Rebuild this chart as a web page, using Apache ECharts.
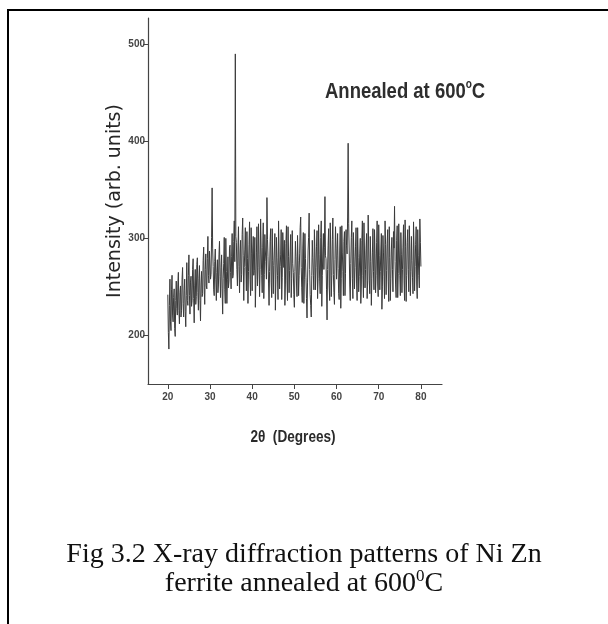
<!DOCTYPE html>
<html><head><meta charset="utf-8">
<script src="https://cdn.jsdelivr.net/npm/echarts@6/dist/echarts.min.js"></script>
<style>html,body{margin:0;padding:0;background:#fff}#c{width:608px;height:624px}</style>
</head><body><div id="c"></div>
<script>
// 2θ scan: start and step (degrees)
const scanStart = 20;
const scanStep = 0.125;
// Intensity (arb. units), one value per step (20° .. 80°)
const intensity = [
  242,203,186,231,258,214,205,247,262,221,214,239,248,207,199,236,256,228,221,252,
  265,226,212,244,251,219,226,258,270,233,219,246,258,225,209,241,275,236,231,262,
  283,241,222,255,261,230,236,268,279,238,213,251,268,232,240,273,280,244,226,259,
  272,236,215,253,266,240,243,277,291,249,232,268,284,251,248,279,302,262,254,287,
  286,258,263,301,352,290,271,247,241,276,289,258,236,265,278,244,252,283,297,261,
  239,270,283,248,222,259,274,301,247,233,300,266,233,258,281,249,256,290,293,265,
  248,281,305,259,262,297,318,276,490,302,296,268,251,289,312,271,244,285,298,255,
  263,304,321,282,236,270,289,311,271,246,307,279,233,266,294,317,258,241,311,284,
  246,288,302,262,267,301,229,258,285,312,251,270,315,283,240,268,320,291,262,244,
  291,316,238,263,304,287,276,258,342,299,281,254,231,266,297,310,255,239,310,277,
  243,272,289,305,226,258,301,280,262,237,318,286,248,271,283,309,237,260,306,289,
  270,298,231,252,295,313,257,236,312,281,244,267,286,304,239,259,308,274,265,242,
  229,266,297,281,254,240,303,277,241,262,284,311,322,270,249,234,290,306,233,258,
  305,279,260,238,218,255,287,301,326,268,242,231,219,262,298,280,262,247,309,286,
  247,270,292,308,238,259,314,283,256,243,301,318,230,262,288,305,268,291,343,282,
  279,247,216,268,293,310,251,236,316,289,240,262,299,321,263,244,232,278,312,290,
  258,282,305,269,243,237,287,312,228,259,313,285,266,241,297,307,241,264,309,293,
  284,322,398,315,288,252,236,274,301,318,259,238,306,281,248,270,292,311,254,236,
  311,280,245,261,284,300,233,252,298,318,262,239,316,287,249,268,290,305,238,257,
  324,289,257,243,302,276,231,259,285,310,266,247,309,284,244,262,296,318,253,240,
  314,282,247,266,288,305,227,250,303,285,261,238,318,294,242,267,295,309,256,235,
  312,280,236,259,289,301,268,245,307,290,333,276,252,239,298,313,239,264,315,287,
  262,241,306,283,244,268,291,314,257,236,319,292,235,262,296,309,268,245,313,288,
  241,266,302,277,260,243,317,290,246,271,294,312,253,238,309,282,262,249,320,296,
  271
];
const xTicks = [20, 30, 40, 50, 60, 70, 80];
const yTicks = [200, 300, 400, 500];
const chartTitle = 'Annealed at 600';
const xName = '2\u03b8  (Degrees)';
const yName = 'Intensity (arb. units)';
const captionLine1 = 'Fig 3.2 X-ray diffraction patterns of Ni Zn';
const captionLine2 = 'ferrite annealed at 600';

const seriesData = intensity.map((v, i) => [scanStart + i * scanStep, v]);

const chart = echarts.init(document.getElementById('c'), null, {renderer: 'canvas'});
const tickFont = {fontFamily: 'Liberation Sans, sans-serif', fontSize: 10, fontWeight: 'bold', color: '#444'};
chart.setOption({
  backgroundColor: '#fff',
  animation: false,
  grid: {left: 148, right: 166, top: 18, bottom: 240},
  xAxis: {
    type: 'value', min: 15.3, max: 85,
    splitLine: {show: false},
    axisLine: {onZero: false, lineStyle: {color: '#444', width: 1.2}},
    axisTick: {customValues: xTicks, length: 5, lineStyle: {color: '#444'}},
    axisLabel: Object.assign({customValues: xTicks, margin: 8}, tickFont)
  },
  yAxis: {
    type: 'value', min: 150, max: 527,
    name: yName, nameLocation: 'middle', nameGap: 22, nameRotate: 90,
    nameTextStyle: {fontFamily: 'DejaVu Sans, sans-serif', fontSize: 19, color: '#262626'},
    splitLine: {show: false},
    axisLine: {show: true, onZero: false, lineStyle: {color: '#444', width: 1.2}},
    axisTick: {show: true, customValues: yTicks, length: 5, lineStyle: {color: '#444'}},
    axisLabel: Object.assign({customValues: yTicks, margin: 3}, tickFont)
  },
  series: [{
    type: 'line', data: seriesData, showSymbol: false, symbol: 'none',
    lineStyle: {color: '#3a3a3a', width: 1}
  }],
  graphic: [
    {type: 'line', shape: {x1: 7, y1: 10, x2: 608, y2: 10}, style: {stroke: '#000', lineWidth: 2}},
    {type: 'line', shape: {x1: 8, y1: 10, x2: 8, y2: 624}, style: {stroke: '#000', lineWidth: 2}},
    {type: 'text', x: 325, y: 79, scaleX: 0.84, style: {
      text: '{n|' + chartTitle + '}{s|o}{n|C}',
      rich: {
        n: {fontFamily: 'Liberation Sans, sans-serif', fontSize: 22, fontWeight: 'bold', fill: '#2e2e2e', lineHeight: 24, verticalAlign: 'bottom'},
        s: {fontFamily: 'Liberation Sans, sans-serif', fontSize: 12, fontWeight: 'bold', fill: '#2e2e2e', lineHeight: 12, verticalAlign: 'top'}
      }
    }},
    {type: 'text', x: 293, y: 437, scaleX: 0.8, style: {
      text: xName, textAlign: 'center', textVerticalAlign: 'middle',
      font: 'bold 17px "Liberation Sans", sans-serif', fill: '#2a2a2a'
    }},
    {type: 'text', x: 304, y: 555, style: {
      text: captionLine1, textAlign: 'center', textVerticalAlign: 'middle',
      font: '28px "Liberation Serif", "Times New Roman", serif', fill: '#111'
    }},
    {type: 'text', x: 304, y: 568, style: {
      text: '{n|' + captionLine2 + '}{s|0}{n|C}', textAlign: 'center',
      rich: {
        n: {fontFamily: 'Liberation Serif, Times New Roman, serif', fontSize: 28, fill: '#111', lineHeight: 30, verticalAlign: 'bottom'},
        s: {fontFamily: 'Liberation Serif, Times New Roman, serif', fontSize: 17, fill: '#111', lineHeight: 17, verticalAlign: 'top'}
      }
    }}
  ]
});
</script>
</body></html>
